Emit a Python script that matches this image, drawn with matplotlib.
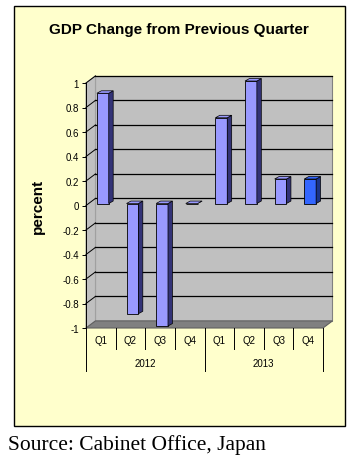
import numpy as np
import matplotlib.pyplot as plt
from matplotlib.patches import Rectangle, Polygon
import matplotlib.transforms as mtransforms

plt.rcParams['font.family'] = ['Liberation Sans', 'DejaVu Sans']

quarters = ["Q1", "Q2", "Q3", "Q4", "Q1", "Q2", "Q3", "Q4"]
years = ["2012", "2013"]
values = [0.9, -0.9, -1.0, 0.0, 0.7, 1.0, 0.2, 0.2]
yticks = [-1, -0.8, -0.6, -0.4, -0.2, 0, 0.2, 0.4, 0.6, 0.8, 1]

fig = plt.figure(figsize=(3.58, 4.60), dpi=100)
fig.patch.set_facecolor("white")

# outer frame
fig.patches.append(Rectangle((14/358, 1-427/460), 331/358, 420/460,
                             transform=fig.transFigure, facecolor="#ffffcc",
                             edgecolor="black", lw=1.0, zorder=-5))

ax = fig.add_axes([86/358, 1-329/460, 237/358, 245/460])
ax.set_xlim(-0.5, 7.5)
ax.set_ylim(-1, 1)
ax.patch.set_visible(False)
for s in ax.spines.values():
    s.set_visible(False)

# depth of the wall and of the bars (data units)
wdx, wdy = 0.32, 0.058
bdx, bdy = 0.15, 0.02
x0, x1 = -0.5, 7.5
y0, y1 = -1, 1

# back wall
ax.add_patch(Polygon([(x0+wdx, y0+wdy), (x1+wdx, y0+wdy), (x1+wdx, y1+wdy), (x0+wdx, y1+wdy)],
                     closed=True, facecolor="#c0c0c0", edgecolor="#808080", lw=0.8,
                     clip_on=False, zorder=0))
# side wall
ax.add_patch(Polygon([(x0, y0), (x0+wdx, y0+wdy), (x0+wdx, y1+wdy), (x0, y1)],
                     closed=True, facecolor="#c0c0c0", edgecolor="#a0a0a0", lw=0.8,
                     clip_on=False, zorder=0))
# floor
ax.add_patch(Polygon([(x0, y0), (x1, y0), (x1+wdx, y0+wdy), (x0+wdx, y0+wdy)],
                     closed=True, facecolor="#808080", edgecolor="#606060", lw=0.8,
                     clip_on=False, zorder=1))

# gridlines on back and side walls
for t in yticks[1:]:
    ax.plot([x0+wdx, x1+wdx], [t+wdy, t+wdy], color="black", lw=0.9, clip_on=False, zorder=1)
    ax.plot([x0, x0+wdx], [t, t+wdy], color="black", lw=0.7, clip_on=False, zorder=1)

# bars, sitting a little behind the front plane
off = mtransforms.offset_copy(ax.transData, fig=fig, x=2, y=2, units="dots")
x = np.arange(len(values))
w = 0.4
colors = ["#9999ff"] * 7 + ["#3366ff"]
sides = ["#333377"] * 7 + ["#1a3388"]
bars = ax.bar(x, values, width=w, color=colors, edgecolor="black", lw=0.6, zorder=3)
for r in bars:
    r.set_transform(off)
    r.set_clip_on(False)
for xi, v, c, sc in zip(x, values, colors, sides):
    top = max(v, 0)
    xl, xr = xi - w/2, xi + w/2
    ax.add_patch(Polygon([(xr, v), (xr+bdx, v+bdy), (xr+bdx, bdy), (xr, 0)],
                         closed=True, facecolor=sc, edgecolor="black", lw=0.5, zorder=3,
                         clip_on=False, transform=off))
    ax.add_patch(Polygon([(xl, top), (xl+bdx, top+bdy), (xr+bdx, top+bdy), (xr, top)],
                         closed=True, facecolor=c, edgecolor="black", lw=0.5, zorder=4,
                         clip_on=False, transform=off))

# y axis
ax.set_yticks(yticks)
ax.set_yticklabels(["%g" % t for t in yticks], fontsize=7)
ax.tick_params(axis="y", length=3, width=0.7, color="black", pad=2)
ax.set_ylabel("percent", fontsize=11, fontweight="bold")
ax.yaxis.set_label_coords(-0.173, 0.5)
ax.plot([x0, x0], [y0, y1], color="black", lw=0.7, clip_on=False, zorder=1)

# x axis: quarters and years
ax.set_xticks([])
trans = mtransforms.blended_transform_factory(ax.transData, ax.transAxes)
for xi, q in zip(x, quarters):
    ax.text(xi, -0.049, q, transform=trans, ha="center", va="center", fontsize=7)
for b in np.arange(-0.5, 8, 1):
    low = -0.176 if b in (-0.5, 3.5, 7.5) else -0.086
    ax.plot([b, b], [0, low], transform=trans, color="black", lw=0.7, clip_on=False)
for i, yr in enumerate(years):
    ax.text(i*4 + 1.5, -0.143, yr, transform=trans, ha="center", va="center", fontsize=7)

fig.text(0.5, 1-30/460, "GDP Change from Previous Quarter", ha="center", va="center",
         fontsize=11, fontweight="bold")
fig.text(8/358, 1-445/460, "Source: Cabinet Office, Japan", ha="left", va="center",
         fontsize=15.5, family=["Liberation Serif", "DejaVu Serif"])

fig.savefig("out.png", dpi=100)
